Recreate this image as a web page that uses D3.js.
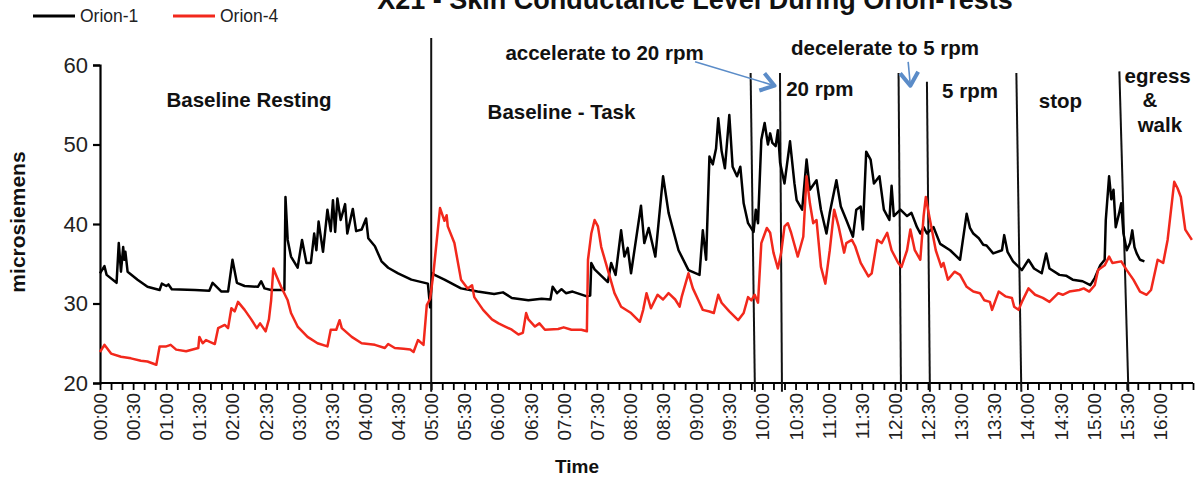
<!DOCTYPE html>
<html>
<head>
<meta charset="utf-8">
<script src="https://cdn.jsdelivr.net/npm/d3@7"></script>
<style>
  body { margin: 0; background: #fff; }
  svg { display: block; font-family: "Liberation Sans", Arial, sans-serif; }
</style>
</head>
<body>
<svg width="1197" height="481"></svg>
<script>
const width = 1197;
const height = 481;

// time in minutes from 00:00, value in microsiemens
const orion1 = [
  [0, 33.8], [4, 34.7], [6, 33.6], [15, 32.6], [17, 37.6], [19, 34], [21, 37.1], [22, 35.5], [23, 36.5], [25, 34],
  [34, 33], [43, 32.1], [54, 31.7], [56, 32.5], [60, 32.2], [62, 32.4], [65, 31.8], [86, 31.7], [99, 31.6], [102, 32.6],
  [110, 31.5], [116, 31.5], [120, 35.5], [124, 32.6], [131, 32.2], [143, 32.1], [146, 32.8], [149, 31.9], [155, 31.7],
  [167, 31.7], [168, 43.4], [170, 38], [173, 35.9], [179, 34.5], [183, 38], [187, 35.1], [191, 35.1], [194, 38.8],
  [196, 36.7], [198, 40.3], [202, 36.5], [206, 41.8], [209, 39.1], [211, 43], [213, 39], [215, 43.2], [218, 40.5],
  [222, 42.5], [224, 38.8], [229, 41.9], [232, 39.1], [237, 39.3], [241, 40.7], [243, 38.2], [249, 37.2], [255, 35.3],
  [261, 34.5], [270, 33.8], [282, 33], [297, 32.5], [299, 29.5], [301, 33.8], [303, 33.6], [312, 33], [327, 31.9],
  [342, 31.5], [357, 31.2], [365, 31.4], [373, 30.7], [388, 30.4], [400, 30.6], [408, 30.5], [410, 32.1], [414, 31.3],
  [418, 31.8], [422, 31.3], [428, 31.5], [441, 30.9], [444, 31], [445, 35.1], [448, 34.3], [460, 32.7], [463, 35.1],
  [467, 33.6], [472, 39.2], [475, 35.9], [478, 37], [481, 33.8], [490, 42.3], [493, 37.6], [497, 39.5], [503, 35.9],
  [510, 46], [515, 41.4], [524, 36.7], [533, 34.2], [543, 33.6], [546, 39.2], [549, 35.5], [552, 48.5], [555, 47.5],
  [558, 49.5], [560, 53.3], [563, 49.2], [566, 47], [570, 53.7], [573, 47.2], [577, 46], [580, 47.2], [583, 42.6],
  [587, 40.1], [592, 39], [594, 41.8], [596, 40.1], [599, 50.6], [602, 52.7], [605, 50], [607, 51.4], [609, 50.2],
  [612, 49.8], [614, 51.8], [616, 47.7], [620, 45.1], [625, 50.4], [629, 45.1], [631, 43], [636, 41.8], [640, 48.1],
  [643, 44.3], [649, 45.5], [653, 41.8], [658, 38.8], [661, 41.4], [667, 45.5], [671, 42.2], [676, 40.5], [682, 38.4],
  [685, 41.8], [689, 42.2], [691, 39.3], [694, 49.1], [698, 48.1], [701, 45.1], [706, 46], [710, 41.8], [715, 40.5],
  [717, 44.8], [719, 41], [725, 41.8], [731, 41], [735, 41.4], [740, 39.6], [743, 38.8], [746, 39.6], [749, 38.8],
  [755, 39.6], [761, 37.5], [770, 36.7], [779, 35.5], [785, 41.3], [788, 39.5], [791, 38.8], [796, 38.2], [800, 37.4],
  [803, 37.3], [809, 36.3], [817, 36.7], [819, 38.6], [822, 36.5], [827, 35.3], [835, 34.2], [841, 35.5], [846, 34.4],
  [853, 33.8], [857, 36.3], [860, 34.4], [869, 33.6], [875, 33.5], [881, 33], [890, 32.8], [897, 32.3], [901, 33.2],
  [906, 34.8], [910, 35.5], [911, 40.5], [914, 46], [916, 43.1], [918, 44.3], [920, 39.6], [923, 41.3], [925, 42.6],
  [927, 38.8], [930, 36.7], [933, 37.6], [935, 39.2], [937, 37.1], [939, 36.3], [942, 35.5], [946, 35.3]
];

const orion4 = [
  [0, 23.9], [4, 24.8], [10, 23.7], [19, 23.3], [28, 23.1], [37, 22.8], [43, 22.7], [51, 22.3], [54, 24.6], [60, 24.6],
  [64, 24.8], [69, 24.2], [78, 24], [89, 24.4], [90, 25.8], [93, 25], [96, 25.4], [104, 24.9], [107, 26.9], [113, 27.3],
  [116, 26.9], [119, 29.4], [122, 29], [125, 30.2], [131, 29.2], [137, 28], [142, 26.9], [145, 27.5], [150, 26.5],
  [153, 28], [155, 30.4], [157, 34.4], [160, 33.4], [164, 32.1], [170, 30.4], [173, 28.8], [179, 27.1], [188, 25.8],
  [197, 25], [206, 24.6], [209, 26.7], [214, 26.7], [217, 27.9], [219, 26.9], [228, 25.8], [237, 25], [249, 24.8],
  [258, 24.4], [261, 24.9], [267, 24.4], [275, 24.3], [281, 24.2], [284, 23.9], [288, 25.4], [293, 24.8], [296, 29.8],
  [299, 30.6], [302, 33.8], [308, 42], [312, 40.4], [314, 41.1], [315, 39.7], [321, 37.6], [327, 33], [333, 31.9],
  [337, 32.3], [339, 30.8], [347, 29.2], [355, 28], [361, 27.5], [367, 27.1], [373, 26.7], [379, 26.1], [383, 26.3],
  [386, 28.8], [388, 28], [394, 27.1], [398, 27.5], [403, 26.7], [415, 26.8], [420, 27], [427, 26.7], [436, 26.7],
  [441, 26.5], [442, 35.5], [445, 38.8], [448, 40.5], [451, 39.7], [454, 37.1], [460, 34.2], [466, 31.3], [472, 29.6],
  [481, 28.8], [489, 27.7], [492, 29.2], [495, 31.3], [499, 29.4], [505, 31.1], [510, 30.5], [515, 31.3], [521, 30.5],
  [525, 29.6], [527, 30.9], [533, 33.8], [537, 31.9], [542, 30.4], [546, 29.2], [552, 29], [556, 28.8], [560, 31.1],
  [563, 30.1], [570, 29], [578, 27.9], [583, 28.8], [587, 30.8], [590, 30.4], [593, 31.1], [596, 30.1], [599, 37.6],
  [604, 39.5], [607, 38.9], [610, 36.4], [614, 34.4], [617, 36.4], [620, 39.7], [623, 40.1], [626, 38.9], [632, 35.9],
  [637, 38.4], [640, 46], [643, 42.6], [646, 40.1], [649, 40.5], [653, 34.6], [657, 32.5], [661, 36.7], [665, 41.8],
  [669, 39.7], [674, 36.4], [676, 37.6], [681, 38], [684, 37.2], [689, 35.1], [696, 33.4], [699, 33.8], [704, 38],
  [708, 37.6], [713, 38.9], [717, 36.7], [723, 35.1], [726, 34.6], [731, 36.7], [734, 39.3], [738, 36.7], [743, 35.5],
  [746, 41], [748, 43.4], [750, 41.8], [754, 38.9], [757, 36.7], [762, 34.6], [764, 35.1], [768, 33], [774, 34],
  [779, 33.6], [785, 32.1], [791, 31.5], [797, 31.3], [801, 30.4], [806, 30.2], [808, 29.2], [814, 31.5], [820, 30.9],
  [826, 30.7], [828, 29.6], [832, 29.2], [835, 30.2], [841, 31.9], [847, 31.1], [854, 30.7], [860, 30.2], [868, 31.3],
  [872, 31.1], [878, 31.5], [887, 31.7], [891, 31.9], [896, 31.5], [901, 32.3], [904, 34.2], [910, 34.8], [914, 35.9],
  [917, 35.1], [925, 35.3], [930, 34.2], [936, 33], [942, 31.5], [948, 31.1], [952, 31.7], [958, 35.5], [963, 35.1],
  [967, 38], [973, 45.3], [976, 44.5], [979, 43.4], [983, 39.3], [989, 38]
];

const tickLabels = ["00:00", "00:30", "01:00", "01:30", "02:00", "02:30", "03:00", "03:30", "04:00", "04:30",
  "05:00", "05:30", "06:00", "06:30", "07:00", "07:30", "08:00", "08:30", "09:00", "09:30", "10:00", "10:30",
  "11:00", "11:30", "12:00", "12:30", "13:00", "13:30", "14:00", "14:30", "15:00", "15:30", "16:00"];
const yTicks = [20, 30, 40, 50, 60];

// event markers: [time at top, time at bottom, top value]
const events = [
  [300, 300, 63.4], [589.3, 593.2, 59], [615.9, 617.7, 59], [723.3, 725.5, 59],
  [749, 751.7, 57.9], [830, 834.5, 59], [923.3, 931.5, 59.2]
];

// annotation texts: [label, time of centre, value of baseline]
const notes = [
  ["Baseline Resting", 135, 54.7], ["Baseline - Task", 418, 53.2], ["accelerate to 20 rpm", 457, 60.6],
  ["decelerate to 5 rpm", 711, 61.3], ["20 rpm", 652, 56.1], ["5 rpm", 788, 55.9], ["stop", 870, 54.6],
  ["egress", 958, 57.7], ["&", 951, 54.7], ["walk", 960, 51.6]
];

// blue arrows: [[t, v] start, [t, v] tip]
const arrows = [
  [[539, 60.4], [611, 57.4]],
  [[732, 60.4], [734, 57.4]]
];

const svg = d3.select("svg");

const x = d3.scaleLinear().domain([0, 990]).range([100, 1193]);
const y = d3.scaleLinear().domain([20, 60]).range([383, 65]);

// axes
const yAxis = svg.append("g")
  .attr("transform", "translate(100,0)")
  .call(d3.axisLeft(y).tickValues(yTicks).tickSize(7).tickPadding(5));
yAxis.select(".domain").attr("stroke-width", 2.2);
yAxis.selectAll(".tick line").attr("stroke-width", 2.2);
yAxis.selectAll(".tick text")
  .style("font-size", "22px")
  .attr("fill", "#222");

const xAxis = svg.append("g")
  .attr("transform", "translate(0,383)")
  .call(d3.axisBottom(x).tickValues(d3.range(0, 991, 10)).tickSize(7).tickFormat(""));
xAxis.select(".domain").attr("stroke-width", 2.2).attr("d", `M${x(0)},0H${x(990)}`);
xAxis.selectAll(".tick line").attr("stroke-width", 1.8);

svg.append("g")
  .selectAll("text")
  .data(tickLabels)
  .join("text")
  .attr("transform", (d, i) => `translate(${x(i * 30) + 7},393) rotate(-90)`)
  .attr("text-anchor", "end")
  .style("font-size", "19px")
  .attr("fill", "#222")
  .text((d) => d);

// event lines
svg.append("g")
  .selectAll("line")
  .data(events)
  .join("line")
  .attr("x1", (d) => x(d[0]))
  .attr("y1", (d) => y(d[2]))
  .attr("x2", (d) => x(d[1]))
  .attr("y2", y(18.9))
  .attr("stroke", "#111")
  .attr("stroke-width", 2);

// series
const line = d3.line().x((d) => x(d[0])).y((d) => y(d[1]));
svg.append("path")
  .datum(orion1)
  .attr("fill", "none")
  .attr("stroke", "#000")
  .attr("stroke-width", 2.5)
  .attr("stroke-linejoin", "round")
  .attr("d", line);
svg.append("path")
  .datum(orion4)
  .attr("fill", "none")
  .attr("stroke", "#f2281c")
  .attr("stroke-width", 2.5)
  .attr("stroke-linejoin", "round")
  .attr("d", line);

// annotations
svg.append("g")
  .selectAll("text")
  .data(notes)
  .join("text")
  .attr("x", (d) => x(d[1]))
  .attr("y", (d) => y(d[2]))
  .attr("text-anchor", "middle")
  .style("font-size", "20.5px")
  .style("font-weight", "bold")
  .attr("fill", "#111")
  .text((d) => d[0]);

// arrows
const arrowG = svg.append("g");
arrows.forEach(([s, e]) => {
  const x0 = x(s[0]), y0 = y(s[1]), x1 = x(e[0]), y1 = y(e[1]);
  const ang = Math.atan2(y1 - y0, x1 - x0);
  arrowG.append("line")
    .attr("x1", x0).attr("y1", y0).attr("x2", x1).attr("y2", y1)
    .attr("stroke", "#5b8cc8").attr("stroke-width", 1.6);
  const h = 16;
  const pts = [
    [x1 - h * Math.cos(ang - 0.6), y1 - h * Math.sin(ang - 0.6)],
    [x1, y1],
    [x1 - h * Math.cos(ang + 0.6), y1 - h * Math.sin(ang + 0.6)]
  ];
  arrowG.append("path")
    .attr("d", d3.line()(pts))
    .attr("fill", "none")
    .attr("stroke", "#5b8cc8")
    .attr("stroke-width", 4)
    .attr("stroke-linejoin", "round");
});

// title
svg.append("text")
  .attr("x", 695)
  .attr("y", 9)
  .attr("text-anchor", "middle")
  .style("font-size", "27px")
  .style("font-weight", "bold")
  .attr("fill", "#111")
  .text("X21 - Skin Conductance Level During Orion-Tests");

// legend
const legend = svg.append("g");
[["Orion-1", "#000", 33], ["Orion-4", "#f2281c", 173]].forEach(([name, color, lx]) => {
  legend.append("line")
    .attr("x1", lx).attr("x2", lx + 42).attr("y1", 16).attr("y2", 16)
    .attr("stroke", color).attr("stroke-width", 3);
  legend.append("text")
    .attr("x", lx + 47).attr("y", 22)
    .style("font-size", "17.5px")
    .attr("fill", "#222")
    .text(name);
});

// axis titles
svg.append("text")
  .attr("transform", "translate(25,222) rotate(-90)")
  .attr("text-anchor", "middle")
  .style("font-size", "21px")
  .style("font-weight", "bold")
  .attr("fill", "#111")
  .text("microsiemens");

svg.append("text")
  .attr("x", 577)
  .attr("y", 473)
  .attr("text-anchor", "middle")
  .style("font-size", "19px")
  .style("font-weight", "bold")
  .attr("fill", "#111")
  .text("Time");
</script>
</body>
</html>
